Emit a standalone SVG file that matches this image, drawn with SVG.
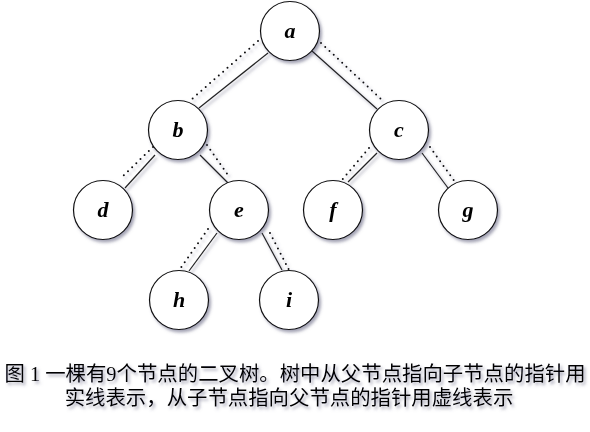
<svg xmlns="http://www.w3.org/2000/svg" width="590" height="432" viewBox="0 0 590 432">
<defs>
<filter id="sh" x="-20%" y="-20%" width="140%" height="140%">
<feDropShadow dx="2" dy="2.5" stdDeviation="1.6" flood-color="#5a5a78" flood-opacity="0.55"/>
</filter>
</defs>
<style>
.n circle{fill:#fff;stroke:#111;stroke-width:1.2}
.n text{font-family:"Liberation Serif",serif;font-weight:bold;font-style:italic;font-size:22px;text-anchor:middle;fill:#000}
.s{stroke:#222;stroke-width:1.2;fill:none}
.d{stroke:#111;stroke-width:2;stroke-linecap:round;stroke-dasharray:0 5.8;fill:none}
.cap{font-family:"Liberation Serif","Noto Sans CJK SC",sans-serif;font-size:20.4px;text-anchor:middle;fill:#000}
</style>
<rect width="590" height="432" fill="#fff"/>
<g filter="url(#sh)">
<g id="connectors">
<line class="s" x1="268" y1="53" x2="199" y2="108"/>
<line class="d" x1="258" y1="41" x2="192" y2="99"/>
<line class="s" x1="312" y1="51" x2="377" y2="109"/>
<line class="d" x1="321" y1="43" x2="381" y2="99"/>
<line class="s" x1="155" y1="155" x2="125" y2="188"/>
<line class="d" x1="153" y1="147" x2="122" y2="177"/>
<line class="s" x1="200" y1="155" x2="228" y2="183"/>
<line class="d" x1="207" y1="145" x2="230" y2="178"/>
<line class="s" x1="377" y1="153" x2="348" y2="182"/>
<line class="d" x1="369" y1="148" x2="342" y2="180"/>
<line class="s" x1="422" y1="153" x2="448" y2="188"/>
<line class="d" x1="430" y1="147" x2="455" y2="182"/>
<line class="s" x1="217" y1="233" x2="189" y2="271"/>
<line class="d" x1="208" y1="229" x2="180" y2="269"/>
<line class="s" x1="262" y1="233" x2="282" y2="270"/>
<line class="d" x1="270" y1="233" x2="289" y2="270"/>
</g>
<g id="node-a" class="n"><circle cx="290" cy="31" r="29.5"/><text x="290" y="38">a</text></g>
<g id="node-b" class="n"><circle cx="178" cy="130" r="29.5"/><text x="178" y="137">b</text></g>
<g id="node-c" class="n"><circle cx="399" cy="130" r="29.5"/><text x="399" y="137">c</text></g>
<g id="node-d" class="n"><circle cx="103" cy="210" r="29.5"/><text x="103" y="217">d</text></g>
<g id="node-e" class="n"><circle cx="239" cy="210" r="29.5"/><text x="239" y="217">e</text></g>
<g id="node-f" class="n"><circle cx="333" cy="210" r="29.5"/><text x="333" y="217">f</text></g>
<g id="node-g" class="n"><circle cx="468" cy="210" r="29.5"/><text x="468" y="217">g</text></g>
<g id="node-h" class="n"><circle cx="179" cy="300" r="29.5"/><text x="179" y="307">h</text></g>
<g id="node-i" class="n"><circle cx="289" cy="300" r="29.5"/><text x="289" y="307">i</text></g>
<g id="caption">
<text class="cap" x="295" y="381">图 1 一棵有9个节点的二叉树。树中从父节点指向子节点的指针用</text>
<text class="cap" x="289" y="405">实线表示，从子节点指向父节点的指针用虚线表示</text>
</g>
</g>
</svg>
